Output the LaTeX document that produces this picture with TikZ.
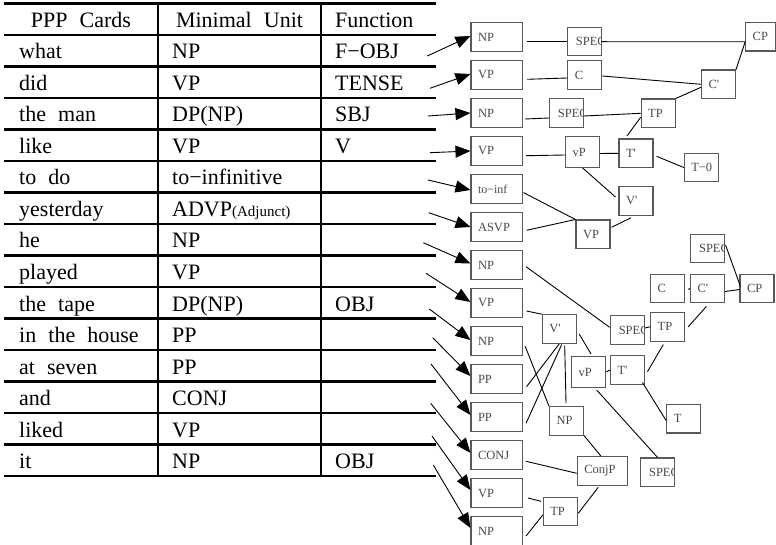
\documentclass[tikz,border=0pt]{standalone}
\usepackage{fontspec}
\setmainfont{Liberation Serif}[Ligatures=TeXOff, WordSpace=2.2]
\usetikzlibrary{arrows.meta}
\begin{document}
\begin{tikzpicture}[x=1pt,y=-1pt,
  tline/.style={line width=2.4pt},
  cell/.style={anchor=base west, inner sep=0pt, font=\fontsize{22}{26}\selectfont},
  hcell/.style={anchor=base, inner sep=0pt, font=\fontsize{22}{26}\selectfont},
  boxbase/.style={draw=black!65, line width=1.1pt, text=black!72, font=\fontsize{12.5}{14}\selectfont, inner xsep=7pt, inner ysep=0pt, minimum height=28.5pt, align=left},
  wbox/.style={boxbase, text width=37.5pt},
  sbox/.style={boxbase, text width=20pt},
  spec/.style={sbox, path picture={\node[anchor=west, inner sep=0pt, text=black!72, font=\fontsize{12.5}{14}\selectfont] at ([xshift=8pt]path picture bounding box.west) {SPEC};}},
  conn/.style={line width=0.9pt},
  arr/.style={line width=0.9pt, -{Triangle[length=15pt,width=12pt]}}
]
\useasboundingbox (0,0) rectangle (776,545);

% ---------- table ----------
\foreach \k in {0,...,15} \draw[tline] (4,3.5+31.5*\k) -- (436,3.5+31.5*\k);
\draw[tline] (158,3.5) -- (158,476);
\draw[tline] (321,3.5) -- (321,476);

\node[hcell] (h1) at (81,27.5) {PPP Cards};
\node[hcell] (h2) at (239.5,27.5) {Minimal Unit};
\node[cell] (h3) at (335,27.5) {Function};

\foreach \a/\b/\c [count=\i] in {
  {what}/{NP}/{F−OBJ},
  {did}/{VP}/{TENSE},
  {the man}/{DP(NP)}/{SBJ},
  {like}/{VP}/{V},
  {to do}/{to−infinitive}/{},
  {yesterday}/{ADVP{\fontsize{15}{16}\selectfont(Adjunct)}}/{},
  {he}/{NP}/{},
  {played}/{VP}/{},
  {the tape}/{DP(NP)}/{OBJ},
  {in the house}/{PP}/{},
  {at seven}/{PP}/{},
  {and}/{CONJ}/{},
  {liked}/{VP}/{},
  {it}/{NP}/{OBJ}}{
  \node[cell] (ca\i) at (19,27.5+31.5*\i) {\a};
  \node[cell] (cb\i) at (172,27.5+31.5*\i) {\b};
  \node[cell] (cc\i) at (335,27.5+31.5*\i) {\c};
}

% ---------- left column boxes ----------
\node[wbox] (b1) at (496.75,37) {NP};
\node[wbox] (b2) at (496.75,75) {VP};
\node[wbox] (b3) at (496.75,113) {NP};
\node[wbox] (b4) at (496.75,151) {VP};
\node[wbox, font=\fontsize{12}{13}\selectfont] (b5) at (496.75,189) {to−inf};
\node[wbox] (b6) at (496.75,227) {ASVP};
\node[wbox] (b7) at (496.75,265) {NP};
\node[wbox] (b8) at (496.75,303) {VP};
\node[wbox] (b9) at (496.75,341) {NP};
\node[wbox] (b10) at (496.75,379) {PP};
\node[wbox] (b11) at (496.75,417) {PP};
\node[wbox] (b12) at (496.75,455) {CONJ};
\node[wbox] (b13) at (496.75,493) {VP};
\node[wbox] (b14) at (496.75,531) {NP};

% ---------- tree boxes ----------
\node[spec] (spA) at (584.3,41.7) {};
\node[sbox] (cA) at (584.8,75) {C};
\node[spec] (spB) at (566.3,113) {};
\node[sbox] (tpA) at (658.2,113.3) {TP};
\node[sbox] (cbA) at (718.5,84.3) {C'};
\node[boxbase, text width=15.8pt] (cpA) at (760.6,36.8) {CP};
\node[sbox, minimum height=30.6pt] (vpA) at (582.5,152) {vP};
\node[sbox] (tbA) at (636,153.3) {T'};
\node[sbox] (t0) at (701.3,167.5) {T−0};
\node[sbox] (vbA) at (636,201) {V'};
\node[sbox] (vpM) at (593,234.3) {VP};

\node[spec] (spC) at (707.5,248.5) {};
\node[sbox] (cB) at (667.7,288.5) {C};
\node[sbox] (cbB) at (707.5,288.5) {C'};
\node[sbox] (cpB) at (757,288.5) {CP};
\node[sbox] (tpB) at (667.7,326.8) {TP};
\node[spec] (spD) at (627.2,330) {};
\node[sbox] (vbB) at (559.3,329) {V'};
\node[sbox, minimum height=31pt] (vpB) at (588.7,372) {vP};
\node[sbox] (tbB) at (627.5,370) {T'};
\node[sbox] (npM) at (566.5,420.8) {NP};
\node[sbox] (tB) at (683.8,418.7) {T};
\node[boxbase, text width=36pt] (conjp) at (602.3,471) {ConjP};
\node[spec] (spE) at (657.5,472.2) {};
\node[sbox] (tpC) at (560.3,511.5) {TP};

% ---------- arrows from table ----------
\coordinate (s1) at (427.3,56);
\coordinate (s2) at (430,88.3);
\coordinate (s3) at (428,116);
\coordinate (s4) at (430,152.7);
\coordinate (s5) at (428,180);
\coordinate (s6) at (428.7,212.7);
\coordinate (s7) at (423.3,242.7);
\coordinate (s8) at (426,273.3);
\coordinate (s9) at (429.3,309);
\coordinate (s10) at (432.7,337.7);
\coordinate (s11) at (431,364);
\coordinate (s12) at (430.7,403.3);
\coordinate (s13) at (432,436);
\coordinate (s14) at (433.3,465);
\draw[arr] (s1) -- ([shift={(0,-1)}]b1.west);
\draw[arr] (s2) -- ([shift={(0,-1)}]b2.west);
\draw[arr] (s3) -- (b3.west);
\draw[arr] (s4) -- (b4.west);
\draw[arr] (s5) -- ([shift={(0,1)}]b5.west);
\draw[arr] (s6) -- (b6.west);
\draw[arr] (s7) -- ([shift={(0,-1.5)}]b7.west);
\draw[arr] (s8) -- ([shift={(0,-1)}]b8.west);
\draw[arr] (s9) -- ([shift={(0,-1)}]b9.west);
\draw[arr] (s10) -- ([shift={(0,-3)}]b10.west);
\draw[arr] (s11) -- ([shift={(0,-2)}]b11.west);
\draw[arr] (s12) -- ([shift={(0,-2)}]b12.west);
\draw[arr] (s13) -- ([shift={(0,-3)}]b13.west);
\draw[arr] (s14) -- ([shift={(0,-3)}]b14.west);

% ---------- tree connectors ----------
\draw[conn] ([shift={(4,4.7)}]b1.east) -- (spA.west);
\draw[conn] (spA.east) -- ([shift={(0,5)}]cpA.west);
\draw[conn] ([shift={(4,4.3)}]b2.east) -- ([shift={(0,3)}]cA.west);
\draw[conn] ([shift={(0,1)}]cA.east) -- (cbA.west);
\draw[conn] (cbA.north east) -- ([shift={(0,5)}]cpA.west);
\draw[conn] ([shift={(2,6)}]b3.east) -- ([shift={(0,5)}]spB.west);
\draw[conn] ([shift={(0,3)}]spB.east) -- (tpA.west);
\draw[conn] (tpA.north east) -- ([shift={(0,3)}]cbA.west);
\draw[conn] ([shift={(0,4)}]tpA.west) -- ([shift={(-9,-2.5)}]tbA.north);
\draw[conn] ([shift={(3,4.7)}]b4.east) -- ([shift={(0,3)}]vpA.west);
\draw[conn] ([shift={(0,1.5)}]vpA.east) -- (tbA.west);
\draw[conn] ([shift={(3,3)}]tbA.east) -- (t0.west);
\draw[conn] (vpA.south) -- ([shift={(-3,-4)}]vbA.west);
\draw[conn] ([shift={(0.5,3.6)}]b5.east) -- (vpM.north west);
\draw[conn] ([shift={(3.5,3.3)}]b6.east) -- (vpM.north west);
\draw[conn] ([shift={(1,-7)}]vpM.east) -- ([shift={(-5,2)}]vbA.south);

\draw[conn] ([shift={(3,1.7)}]b7.east) -- ([shift={(0,-2.7)}]spD.west);
\draw[conn] ([shift={(0,-2)}]spD.east) -- (tpB.west);
\draw[conn] ([shift={(3,0)}]tpB.east) -- ([shift={(-1,3)}]cbB.south);
\draw[conn] ([shift={(3,1)}]cB.east) -- (cbB.west);
\draw[conn] ([shift={(0,3)}]cbB.east) -- ([shift={(0,1)}]cpB.west);
\draw[conn] ([shift={(0.5,-3.5)}]spC.east) -- ([shift={(1,-2)}]cpB.west);
\draw[conn] ([shift={(3.5,8)}]b8.east) -- (vbB.north west);
\draw[conn] ([shift={(2.3,5)}]vbB.east) -- ([shift={(2.3,-2)}]vpB.north);
\draw[conn] (vpB.east) -- (tbB.west);
\draw[conn] ([shift={(2.4,1.7)}]tbB.east) -- ([shift={(-4.4,3)}]tpB.south);
\draw[conn] ([shift={(-2.6,-2.3)}]tbB.south east) -- ([shift={(0,2)}]tB.west);
\draw[conn] ([shift={(8,2)}]vpB.south) -- (spE.north);
\draw[conn] ([shift={(2,5)}]b9.east) -- (npM.north west);
\draw[conn] (vbB.south) -- ([shift={(3.5,7.7)}]b10.east);
\draw[conn] ([shift={(2.4,0.7)}]vbB.south) -- ([shift={(3,6.3)}]b11.east);
\draw[conn] ([shift={(5.4,1.7)}]vbB.south) -- ([shift={(-0.5,-2.7)}]npM.north);
\draw[conn] (npM.south east) -- ([shift={(-1.3,0)}]conjp.north);
\draw[conn] ([shift={(3,6.3)}]b12.east) -- ([shift={(0,2.3)}]conjp.west);
\draw[conn] ([shift={(-4,1.4)}]conjp.south) -- ([shift={(0.4,1.8)}]tpC.east);
\draw[conn] ([shift={(5,5)}]b13.east) -- ([shift={(-1.6,4.7)}]tpC.north west);
\draw[conn] ([shift={(3,5)}]b14.east) -- ([shift={(0,3.5)}]tpC.west);
\end{tikzpicture}
\end{document}
